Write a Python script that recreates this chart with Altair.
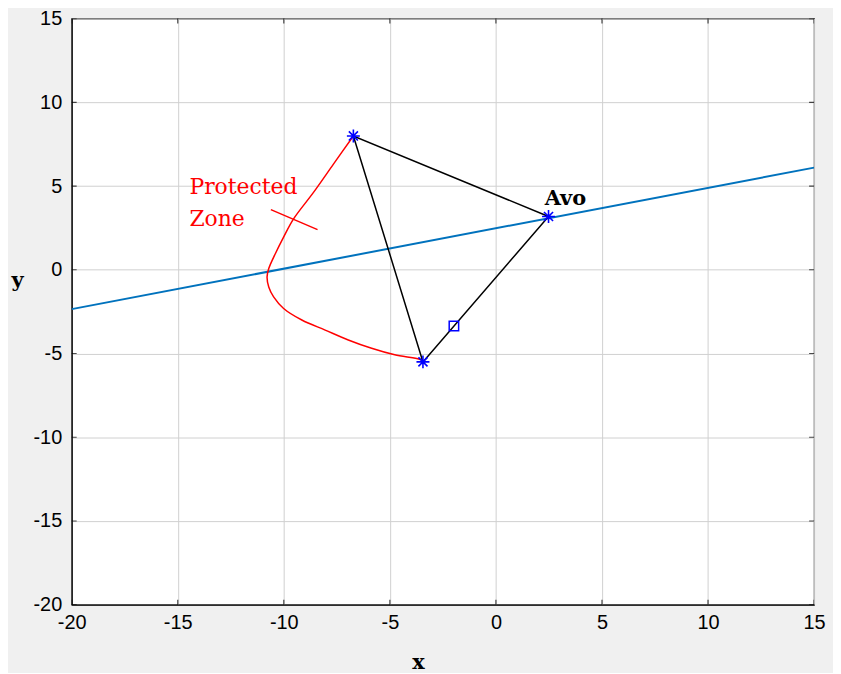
import altair as alt
import pandas as pd

# ---- data ----
line_x = [-20, 15]
line_y = [-2.35, 6.1]

zone_x = [-6.72, -7.66, -8.60, -9.54, -10.01, -10.40, -10.71, -10.79, -10.71, -10.48, -10.01,
          -9.15, -8.05, -6.96, -5.86, -4.77, -3.52, -3.44]
zone_y = [7.99, 6.31, 4.62, 3.04, 1.95, 0.96, 0.07, -0.43, -1.03, -1.62, -2.31,
          -3.00, -3.60, -4.19, -4.69, -5.08, -5.38, -5.50]

tri_x = [2.48, -6.72, -3.44, 2.48]
tri_y = [3.18, 7.99, -5.50, 3.18]

star_x = [-6.72, 2.48, -3.44]
star_y = [7.99, 3.18, -5.50]

sq_x = [-1.98]
sq_y = [-3.36]

ptr_x = [-10.61, -8.41]
ptr_y = [3.59, 2.40]

zone_labels = ["Protected", "Zone"]
zone_lab_x = [-14.45, -14.45]
zone_lab_y = [4.95, 3.05]

avo_label = ["Avo"]
avo_lab_x = [2.3]
avo_lab_y = [4.25]

tick_vals = [-20, -15, -10, -5, 0, 5, 10, 15]

# ---- scales ----
xs = alt.Scale(domain=[-20, 15], nice=False, zero=False)
ys = alt.Scale(domain=[-20, 15], nice=False, zero=False)

xaxis = alt.Axis(values=tick_vals, title="x", titleFont="DejaVu Serif", titleFontWeight="bold",
                 titleFontSize=21, titleColor="black", titleX=348, titleY=58, titleBaseline="middle",
                 labelFont="Liberation Sans", labelFontSize=20, labelColor="black", labelPadding=8,
                 labelExpr="datum.value + ''",
                 ticks=False, domainColor="black", domainWidth=1.2,
                 gridColor="#d0d0d0", gridWidth=1, labelFlush=False)
yaxis = alt.Axis(values=tick_vals, title="y", titleFont="DejaVu Serif", titleFontWeight="bold",
                 titleFontSize=21, titleColor="black", titleAngle=0, titleX=-55, titleY=263,
                 titleBaseline="middle", titleAlign="center",
                 labelFont="Liberation Sans", labelFontSize=20, labelColor="black", labelPadding=10,
                 labelExpr="datum.value + ''",
                 ticks=False, domainColor="black", domainWidth=1.2,
                 gridColor="#d0d0d0", gridWidth=1, labelFlush=False)

df_line = pd.DataFrame({"x": line_x, "y": line_y})
df_zone = pd.DataFrame({"x": zone_x, "y": zone_y, "o": range(len(zone_x))})
df_tri = pd.DataFrame({"x": tri_x, "y": tri_y, "o": range(len(tri_x))})
df_star = pd.DataFrame({"x": star_x, "y": star_y})
df_sq = pd.DataFrame({"x": sq_x, "y": sq_y})
df_ptr = pd.DataFrame({"x": ptr_x, "y": ptr_y})
df_zl = pd.DataFrame({"x": zone_lab_x, "y": zone_lab_y, "t": zone_labels})
df_al = pd.DataFrame({"x": avo_lab_x, "y": avo_lab_y, "t": avo_label})
df_ticks = pd.DataFrame({"v": tick_vals})

base_line = alt.Chart(df_line).mark_line(color="#0072BD", strokeWidth=2, clip=True).encode(
    x=alt.X("x:Q", scale=xs, axis=xaxis),
    y=alt.Y("y:Q", scale=ys, axis=yaxis),
)

zone = alt.Chart(df_zone).mark_line(color="#ff0000", strokeWidth=1.5, interpolate="catmull-rom").encode(
    x=alt.X("x:Q", scale=xs), y=alt.Y("y:Q", scale=ys), order="o:Q")

tri = alt.Chart(df_tri).mark_line(color="black", strokeWidth=1.5).encode(
    x=alt.X("x:Q", scale=xs), y=alt.Y("y:Q", scale=ys), order="o:Q")

ptr = alt.Chart(df_ptr).mark_line(color="#ff0000", strokeWidth=1.5).encode(
    x=alt.X("x:Q", scale=xs), y=alt.Y("y:Q", scale=ys))

asterisk = "M-1,0L1,0M0,-1L0,1M-0.7,-0.7L0.7,0.7M-0.7,0.7L0.7,-0.7"
stars = alt.Chart(df_star).mark_point(shape=asterisk, size=170, color="#0000ff",
                                      strokeWidth=1.6, filled=False, opacity=1).encode(
    x=alt.X("x:Q", scale=xs), y=alt.Y("y:Q", scale=ys))

sq = alt.Chart(df_sq).mark_point(shape="square", size=90, color="#0000ff",
                                 strokeWidth=1.5, filled=False, opacity=1).encode(
    x=alt.X("x:Q", scale=xs), y=alt.Y("y:Q", scale=ys))

zl = alt.Chart(df_zl).mark_text(font="DejaVu Serif", fontSize=22, color="#ff0000",
                                align="left", baseline="middle").encode(
    x=alt.X("x:Q", scale=xs), y=alt.Y("y:Q", scale=ys), text="t:N")

al = alt.Chart(df_al).mark_text(font="DejaVu Serif", fontSize=21, fontWeight="bold", color="black",
                                align="left", baseline="middle").encode(
    x=alt.X("x:Q", scale=xs), y=alt.Y("y:Q", scale=ys), text="t:N")

# inward ticks on all four sides (clipped to the plot area)
tb = alt.Chart(df_ticks).mark_tick(orient="vertical", size=10, thickness=1.2, color="black", clip=True)
tick_bottom = tb.encode(x=alt.X("v:Q", scale=xs), y=alt.datum(-20))
tick_top = tb.encode(x=alt.X("v:Q", scale=xs), y=alt.datum(15))
tl = alt.Chart(df_ticks).mark_tick(orient="horizontal", size=10, thickness=1.2, color="black", clip=True)
tick_left = tl.encode(y=alt.Y("v:Q", scale=ys), x=alt.datum(-20))
tick_right = tl.encode(y=alt.Y("v:Q", scale=ys), x=alt.datum(15))

chart = alt.layer(
    base_line, zone, ptr, tri, sq, stars, zl, al,
    tick_bottom, tick_top, tick_left, tick_right,
).properties(
    width=746, height=589,
    autosize=alt.AutoSizeParams(type="none"),
    padding={"left": 64, "top": 9, "right": 19, "bottom": 67},
    background="#f0f0f0",
).configure_view(
    fill="white", stroke="black", strokeWidth=1.2,
)

chart.save("out.html", embed_options={"renderer": "svg", "actions": False})
